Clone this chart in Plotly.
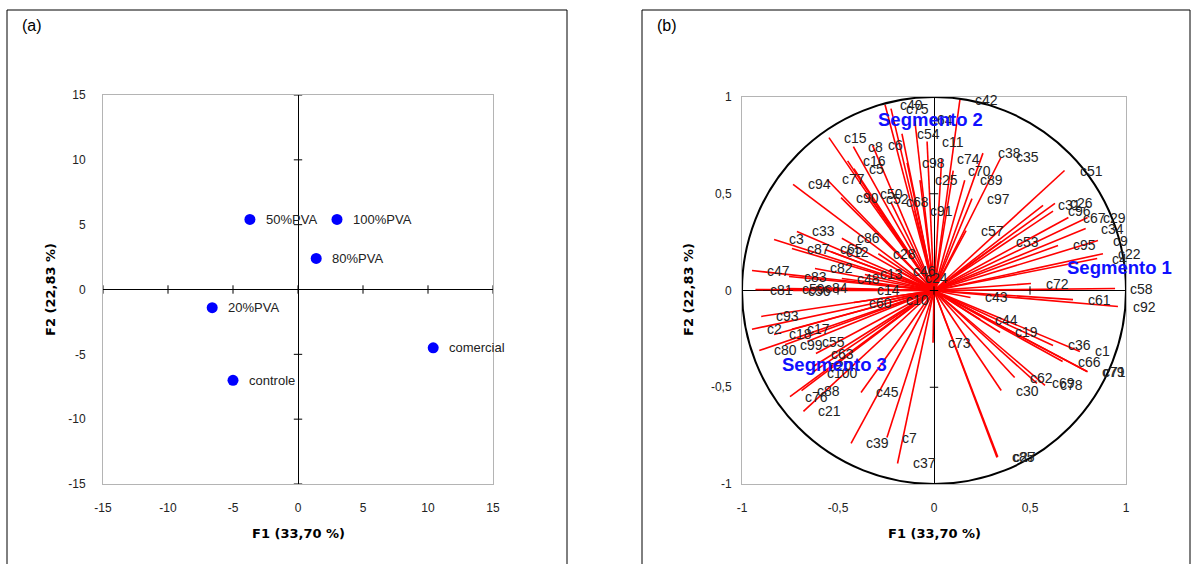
import plotly.graph_objects as go

# ---------------- Panel (a): sample scores ----------------
samples = ["50%PVA", "100%PVA", "80%PVA", "20%PVA", "controle", "comercial"]
f1_scores = [-3.7, 3.0, 1.4, -6.6, -5.0, 10.4]
f2_scores = [5.4, 5.4, 2.4, -1.4, -7.0, -4.5]
ticks_a = [-15, -10, -5, 0, 5, 10, 15]
ticks_a_text = ["-15", "-10", "-5", "0", "5", "10", "15"]

# ---------------- Panel (b): variable loadings ----------------
var_names = [
    "c42", "c40", "c75", "c64", "c54", "c11", "c15", "c8", "c6", "c16", "c5", "c98", "c74",
    "c38", "c35", "c70", "c51", "c77", "c94", "c25", "c89", "c90", "c50", "c52", "c68",
    "c97", "c91", "c31", "c26", "c96", "c67", "c29", "c34", "c9", "c22", "c4", "c57",
    "c53", "c95", "c33", "c3", "c87", "c86", "c65", "c12", "c28", "c47", "c83", "c82",
    "c48", "c13", "c46", "c24", "c72", "c58", "c81", "c59", "c56", "c84", "c14", "c43",
    "c61", "c92", "c60", "c10", "c93", "c44", "c2", "c18", "c17", "c19", "c99", "c55",
    "c73", "c36", "c1", "c80", "c63", "c66", "c79", "c71", "c100", "c20", "c62", "c69",
    "c78", "c45", "c88", "c76", "c30", "c21", "c39", "c7", "c37", "c85", "c27",
]
var_f1 = [
    0.135, -0.255, -0.224, -0.10, -0.167, -0.036, -0.547, -0.42, -0.32, -0.45, -0.417, -0.14, 0.04,
    0.255, 0.35, 0.10, 0.68, -0.557, -0.734, -0.073, 0.16, -0.484, -0.36, -0.33, -0.224,
    0.198, -0.10, 0.568, 0.63, 0.62, 0.70, 0.80, 0.79, 0.854, 0.88, 0.85, 0.167,
    0.35, 0.646, -0.714, -0.833, -0.74, -0.48, -0.568, -0.536, -0.29, -0.948, -0.755, -0.62,
    -0.48, -0.36, -0.19, -0.125, 0.505, 0.943, -0.93, -0.766, -0.734, -0.646, -0.375, 0.19,
    0.724, 0.958, -0.417, -0.224, -0.90, 0.24, -0.948, -0.833, -0.74, 0.344, -0.776, -0.66,
    -0.005, 0.62, 0.76, -0.91, -0.615, 0.67, 0.797, 0.80, -0.635, -0.625, 0.42, 0.536,
    0.578, -0.38, -0.69, -0.75, 0.35, -0.68, -0.432, -0.245, -0.19, 0.328, 0.332,
]
var_f2 = [
    0.987, 0.96, 0.94, 0.88, 0.81, 0.77, 0.79, 0.744, 0.75, 0.67, 0.63, 0.66, 0.68,
    0.71, 0.69, 0.62, 0.62, 0.574, 0.548, 0.57, 0.57, 0.48, 0.50, 0.475, 0.455,
    0.475, 0.41, 0.44, 0.45, 0.41, 0.377, 0.377, 0.32, 0.258, 0.19, 0.165, 0.31,
    0.253, 0.233, 0.305, 0.264, 0.217, 0.27, 0.212, 0.20, 0.19, 0.103, 0.072, 0.114,
    0.062, 0.083, 0.103, 0.067, 0.036, 0.01, 0.005, 0.01, 0.0, 0.015, 0.005, -0.036,
    -0.047, -0.083, -0.062, -0.047, -0.134, -0.15, -0.20, -0.227, -0.20, -0.217, -0.28, -0.264,
    -0.27, -0.284, -0.315, -0.31, -0.326, -0.367, -0.419, -0.42, -0.424, -0.39, -0.45, -0.48,
    -0.49, -0.527, -0.517, -0.548, -0.517, -0.625, -0.79, -0.76, -0.894, -0.863, -0.86,
]
segments = ["Segmento 1", "Segmento 2", "Segmento 3"]
seg_f1 = [0.964, -0.016, -0.52]
seg_f2 = [0.119, 0.884, -0.382]
ticks_b = [-1, -0.5, 0, 0.5, 1]
ticks_b_text = ["-1", "-0,5", "0", "0,5", "1"]

W, H = 1194, 564
FONT = "Liberation Sans, Arial, sans-serif"

fig = go.Figure()

# panel (a) points
fig.add_trace(go.Scatter(
    x=f1_scores, y=f2_scores, mode="markers",
    marker=dict(size=11, color="#0000ff"), xaxis="x", yaxis="y", showlegend=False,
))
# zero-line tick marks panel (a)
fig.add_trace(go.Scatter(x=ticks_a, y=[0] * len(ticks_a), mode="markers",
                         marker=dict(symbol="line-ns-open", size=6, color="black", line=dict(width=1)),
                         xaxis="x", yaxis="y", showlegend=False, hoverinfo="skip"))
fig.add_trace(go.Scatter(x=[0] * len(ticks_a), y=ticks_a, mode="markers",
                         marker=dict(symbol="line-ew-open", size=6, color="black", line=dict(width=1)),
                         xaxis="x", yaxis="y", showlegend=False, hoverinfo="skip"))

# panel (b) vectors
lx, ly = [], []
for a, b in zip(var_f1, var_f2):
    lx += [0, a, None]
    ly += [0, b, None]
fig.add_trace(go.Scatter(x=lx, y=ly, mode="lines", line=dict(color="#ff0000", width=1.6),
                         xaxis="x2", yaxis="y2", showlegend=False, hoverinfo="skip"))
fig.add_trace(go.Scatter(x=ticks_b, y=[0] * len(ticks_b), mode="markers",
                         marker=dict(symbol="line-ns-open", size=6, color="black", line=dict(width=1)),
                         xaxis="x2", yaxis="y2", showlegend=False, hoverinfo="skip"))
fig.add_trace(go.Scatter(x=[0] * len(ticks_b), y=ticks_b, mode="markers",
                         marker=dict(symbol="line-ew-open", size=6, color="black", line=dict(width=1)),
                         xaxis="x2", yaxis="y2", showlegend=False, hoverinfo="skip"))

annotations = []
for name, a, b in zip(samples, f1_scores, f2_scores):
    annotations.append(dict(x=a, y=b, xref="x", yref="y", text=name, showarrow=False,
                            xanchor="left", yanchor="middle", xshift=14,
                            font=dict(size=13, color="#222", family=FONT)))
for name, a, b in zip(var_names, var_f1, var_f2):
    annotations.append(dict(x=a, y=b, xref="x2", yref="y2", text=name, showarrow=False,
                            xanchor="left", yanchor="middle", xshift=13,
                            font=dict(size=14, color="#222", family=FONT)))
for name, a, b in zip(segments, seg_f1, seg_f2):
    annotations.append(dict(x=a, y=b, xref="x2", yref="y2", text="<b>" + name + "</b>",
                            showarrow=False, xanchor="center", yanchor="middle",
                            font=dict(size=18.5, color="#1010ff", family=FONT)))

# panel letters and axis titles
title_font = dict(size=13, color="black", family="DejaVu Sans, Verdana, sans-serif")
annotations += [
    dict(x=20 / W, y=1 - 25 / H, xref="paper", yref="paper", text="(a)", showarrow=False,
         xanchor="left", yanchor="middle", font=dict(size=16, color="black", family=FONT)),
    dict(x=655 / W, y=1 - 25 / H, xref="paper", yref="paper", text="(b)", showarrow=False,
         xanchor="left", yanchor="middle", font=dict(size=16, color="black", family=FONT)),
    dict(x=298 / W, y=1 - 533 / H, xref="paper", yref="paper", text="<b>F1 (33,70 %)</b>",
         showarrow=False, xanchor="center", yanchor="middle", font=title_font),
    dict(x=934 / W, y=1 - 533 / H, xref="paper", yref="paper", text="<b>F1 (33,70 %)</b>",
         showarrow=False, xanchor="center", yanchor="middle", font=title_font),
    dict(x=50 / W, y=1 - 290 / H, xref="paper", yref="paper", text="<b>F2 (22,83 %)</b>",
         showarrow=False, textangle=-90, xanchor="center", yanchor="middle", font=title_font),
    dict(x=688 / W, y=1 - 290 / H, xref="paper", yref="paper", text="<b>F2 (22,83 %)</b>",
         showarrow=False, textangle=-90, xanchor="center", yanchor="middle", font=title_font),
]

shapes = [
    dict(type="rect", xref="paper", yref="paper", x0=7 / W, x1=567 / W, y0=-0.05, y1=1 - 10 / H,
         line=dict(color="black", width=1)),
    dict(type="rect", xref="paper", yref="paper", x0=642 / W, x1=1190 / W, y0=-0.05, y1=1 - 10 / H,
         line=dict(color="black", width=1)),
    dict(type="circle", xref="x2", yref="y2", x0=-1, x1=1, y0=-1, y1=1,
         line=dict(color="black", width=2), layer="above"),
]

axis_common = dict(showgrid=False, zeroline=True, zerolinecolor="black", zerolinewidth=1,
                   showline=True, mirror=True, linecolor="#b4b4b4", linewidth=1,
                   automargin=False, ticks="", tickfont=dict(size=12, color="#222", family=FONT))

fig.update_layout(
    template="none",
    width=W, height=H, autosize=False, margin=dict(l=0, r=0, t=0, b=0, pad=0),
    paper_bgcolor="white", plot_bgcolor="white", showlegend=False,
    xaxis=dict(domain=[103 / W, 493 / W], range=[-15, 15], tickvals=ticks_a, ticktext=ticks_a_text,
               anchor="y", ticklabelstandoff=13, **axis_common),
    yaxis=dict(domain=[1 - 484 / H, 1 - 95 / H], range=[-15, 15], tickvals=ticks_a, ticktext=ticks_a_text,
               anchor="x", ticklabelstandoff=14, **axis_common),
    xaxis2=dict(domain=[742 / W, 1126 / W], range=[-1, 1], tickvals=ticks_b, ticktext=ticks_b_text,
                anchor="y2", ticklabelstandoff=13, **axis_common),
    yaxis2=dict(domain=[1 - 484 / H, 1 - 97 / H], range=[-1, 1], tickvals=ticks_b, ticktext=ticks_b_text,
                anchor="x2", ticklabelstandoff=7, **axis_common),
    annotations=annotations, shapes=shapes,
)

fig.write_html("out.html", config={"displayModeBar": False},
               post_script="document.body.style.margin='0';document.body.style.overflow='hidden';")
